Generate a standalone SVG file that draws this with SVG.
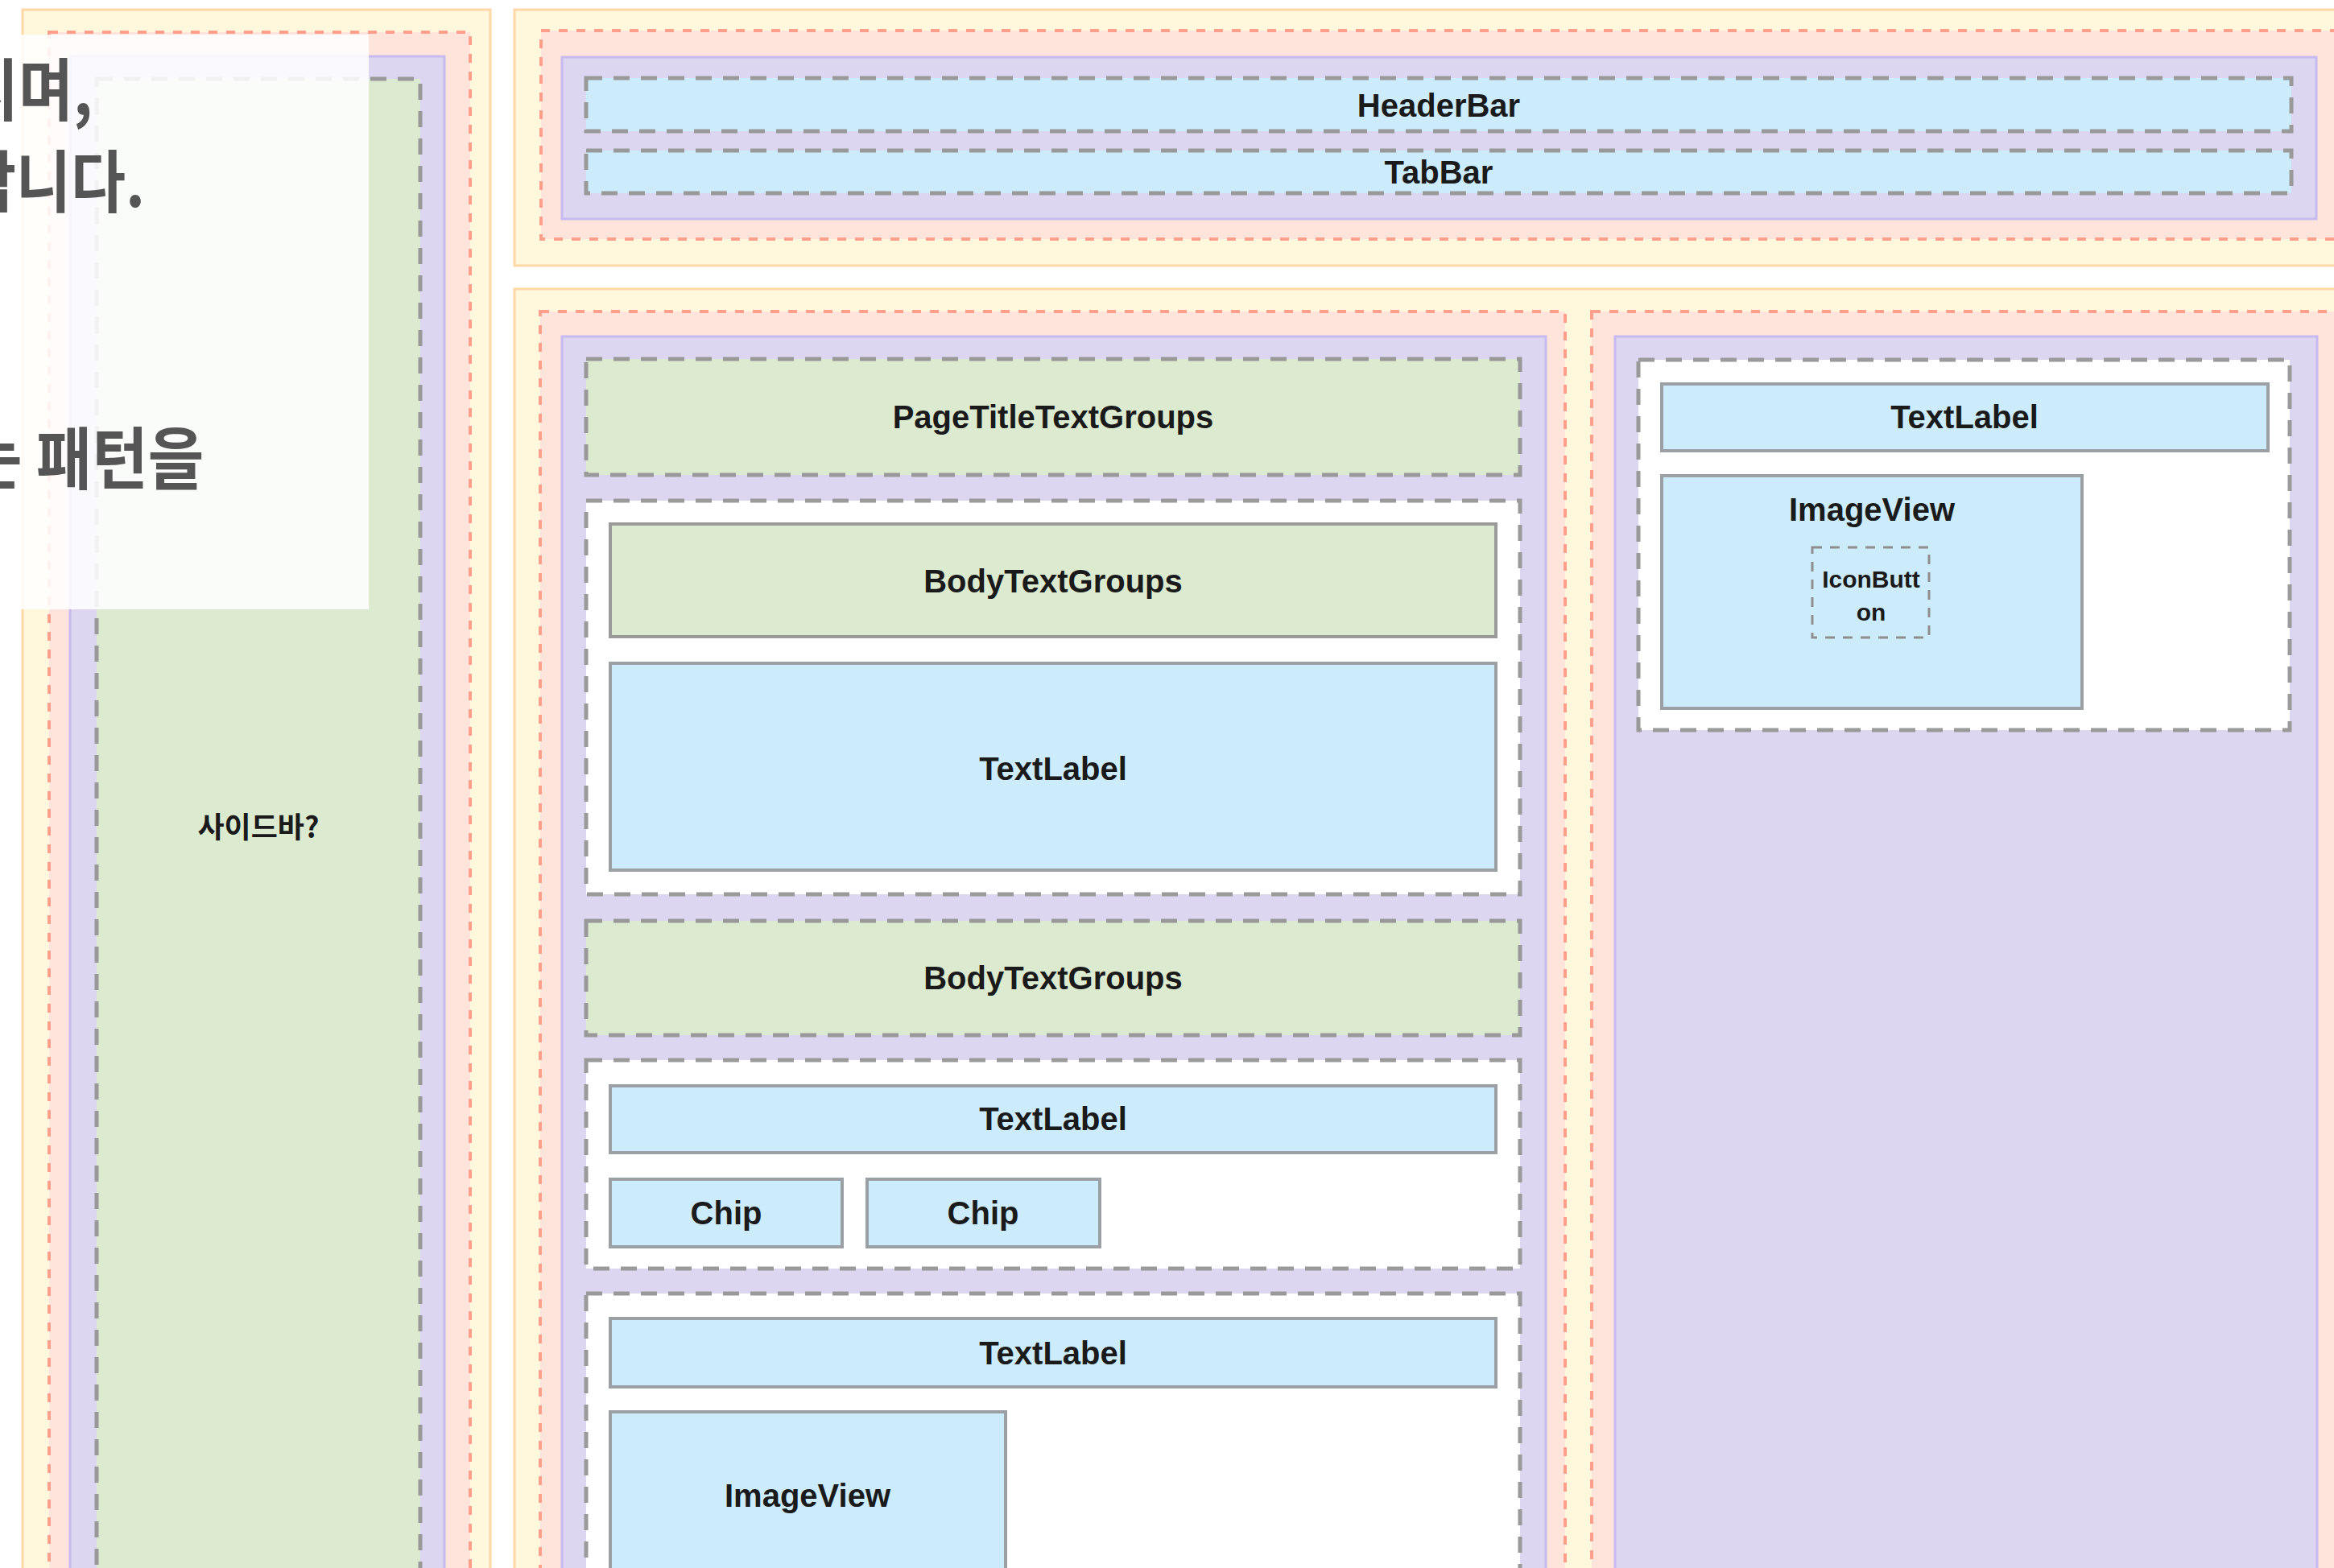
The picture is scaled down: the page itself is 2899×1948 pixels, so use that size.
<svg xmlns="http://www.w3.org/2000/svg" width="2899" height="1948" viewBox="0 0 2899 1948">
<style>
.yel{fill:#FFF8DC;stroke:#FFD6A5;stroke-width:3}
.pnk{fill:#FFE4DC;stroke:#FF9F8C;stroke-width:4;stroke-dasharray:11 11}
.pur{fill:#DCD6F0;stroke:#C6BAF0;stroke-width:3}
.grnd{fill:#DCEBD0;stroke:#999;stroke-width:5;stroke-dasharray:20 14}
.grn{fill:#DCEBD0;stroke:#9A9A9A;stroke-width:4}
.blu{fill:#CCECFC;stroke:#9AA0A4;stroke-width:4}
.blud{fill:#CCECFC;stroke:#999;stroke-width:5;stroke-dasharray:20 14}
.wht{fill:#FFFFFF;stroke:#9A9A9A;stroke-width:5;stroke-dasharray:20 14}
.icn{fill:#CCECFC;stroke:#8E8E8E;stroke-width:3;stroke-dasharray:12 10}
.lbl{font-family:"Liberation Sans",Arial,sans-serif;font-weight:bold;font-size:40px;fill:#1A1A1A;text-anchor:middle}
.sm{font-size:30px}
.kr{font-family:"Noto Sans CJK KR","Noto Sans",sans-serif;font-weight:bold;font-size:36px;fill:#1A1A1A;text-anchor:middle}
.ov{font-family:"Noto Sans CJK KR","Noto Sans",sans-serif;font-weight:bold;font-size:84px;fill:#555555}
</style>
<rect x="0" y="0" width="2899" height="1948" fill="#FFFFFF"/>

<g id="sidebar-column">
  <rect class="yel" x="28" y="12" width="581" height="2000"/>
  <rect class="pnk" x="61" y="40" width="523" height="2000"/>
  <rect class="pur" x="87" y="70" width="465" height="2000"/>
  <g id="sidebar">
    <rect class="grnd" x="120" y="98" width="402" height="2000"/>
    <text class="kr" x="321" y="1041">사이드바?</text>
  </g>
</g>

<g id="header-container">
  <rect class="yel" x="639" y="12" width="2300" height="318"/>
  <rect class="pnk" x="672" y="38" width="2260" height="259"/>
  <rect class="pur" x="698" y="71" width="2179" height="201"/>
  <g id="headerbar">
    <rect class="blud" x="728" y="97" width="2118" height="66"/>
    <text class="lbl" x="1787" y="145">HeaderBar</text>
  </g>
  <g id="tabbar">
    <rect class="blud" x="728" y="187" width="2118" height="53"/>
    <text class="lbl" x="1787" y="228">TabBar</text>
  </g>
</g>

<g id="body-container">
  <rect class="yel" x="639" y="359" width="2300" height="1700"/>
</g>

<g id="main-content">
  <rect class="pnk" x="671" y="387" width="1273" height="1700"/>
  <rect class="pur" x="698" y="418" width="1222" height="1700"/>
  <g id="page-title">
    <rect class="grnd" x="728" y="446" width="1160" height="144"/>
    <text class="lbl" x="1308" y="532">PageTitleTextGroups</text>
  </g>
  <g id="group-1">
    <rect class="wht" x="728" y="622" width="1160" height="489"/>
    <g id="body-text-1">
      <rect class="grn" x="758" y="651" width="1100" height="140"/>
      <text class="lbl" x="1308" y="736">BodyTextGroups</text>
    </g>
    <g id="textlabel-1">
      <rect class="blu" x="758" y="824" width="1100" height="257"/>
      <text class="lbl" x="1308" y="969">TextLabel</text>
    </g>
  </g>
  <g id="body-text-2">
    <rect class="grnd" x="728" y="1144" width="1160" height="142"/>
    <text class="lbl" x="1308" y="1229">BodyTextGroups</text>
  </g>
  <g id="group-2">
    <rect class="wht" x="728" y="1317" width="1160" height="259"/>
    <g id="textlabel-2">
      <rect class="blu" x="758" y="1349" width="1100" height="83"/>
      <text class="lbl" x="1308" y="1404">TextLabel</text>
    </g>
    <g id="chip-1">
      <rect class="blu" x="758" y="1465" width="288" height="84"/>
      <text class="lbl" x="902" y="1521">Chip</text>
    </g>
    <g id="chip-2">
      <rect class="blu" x="1077" y="1465" width="289" height="84"/>
      <text class="lbl" x="1221" y="1521">Chip</text>
    </g>
  </g>
  <g id="group-3">
    <rect class="wht" x="728" y="1607" width="1160" height="500"/>
    <g id="textlabel-3">
      <rect class="blu" x="758" y="1638" width="1100" height="85"/>
      <text class="lbl" x="1308" y="1695">TextLabel</text>
    </g>
    <g id="imageview-1">
      <rect class="blu" x="758" y="1754" width="491" height="300"/>
      <text class="lbl" x="1003" y="1872">ImageView</text>
    </g>
  </g>
</g>

<g id="right-panel">
  <rect class="pnk" x="1977" y="387" width="1000" height="1700"/>
  <rect class="pur" x="2006" y="418" width="872" height="1700"/>
  <g id="right-group">
    <rect class="wht" x="2035" y="447" width="809" height="460"/>
    <g id="textlabel-r">
      <rect class="blu" x="2064" y="477" width="753" height="83"/>
      <text class="lbl" x="2440" y="532">TextLabel</text>
    </g>
    <g id="imageview-r">
      <rect class="blu" x="2064" y="591" width="522" height="289"/>
      <text class="lbl" x="2325" y="647">ImageView</text>
      <g id="iconbutton">
        <rect class="icn" x="2251" y="680" width="145" height="112"/>
        <text class="lbl sm" x="2324" y="730">IconButt</text>
        <text class="lbl sm" x="2324" y="771">on</text>
      </g>
    </g>
  </g>
</g>

<g id="connectors"/>

<g id="overlay-note">
  <rect x="-10" y="43" width="468" height="714" fill="#FFFFFF" fill-opacity="0.86"/>
  <g transform="translate(-45,143) scale(0.88,1)"><text class="ov" x="0" y="0">지며,</text></g>
  <g transform="translate(-48,257) scale(0.88,1)"><text class="ov" x="0" y="0">합니다.</text></g>
  <g transform="translate(-42,601) scale(0.9,1)"><text class="ov" x="0" y="0">는 패턴을</text></g>
</g>
</svg>
